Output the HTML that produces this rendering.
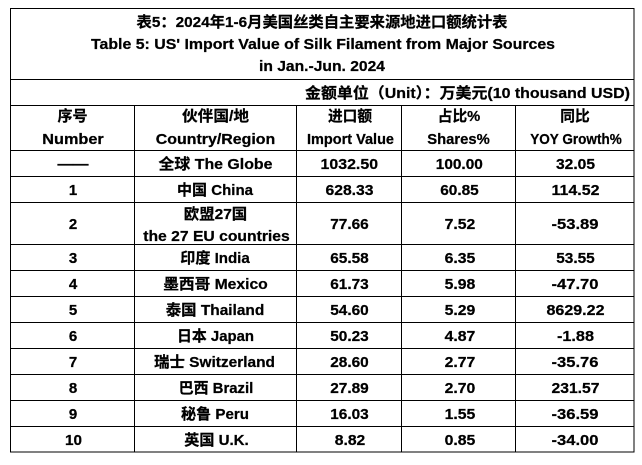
<!DOCTYPE html>
<html>
<head>
<meta charset="utf-8">
<style>
  html, body { margin:0; padding:0; background:#fff; }
  svg { display:block; }
  text { font-family: "Liberation Sans", "Noto Sans CJK SC", sans-serif; font-weight: bold; font-size: 15px; fill: #000; stroke:#000; stroke-width:0.25px; }
</style>
</head>
<body>
<svg width="642" height="465" viewBox="0 0 642 465" xmlns="http://www.w3.org/2000/svg">
  <rect x="0" y="0" width="642" height="465" fill="#fff"/>
  <g stroke="#000" stroke-width="1.2" fill="none" shape-rendering="crispEdges">
    <rect x="10.5" y="8.5" width="623.5" height="443.5"/>
    <line x1="10" y1="79.5" x2="634" y2="79.5"/>
    <line x1="10" y1="105.5" x2="634" y2="105.5"/>
    <line x1="10" y1="150.5" x2="634" y2="150.5"/>
    <line x1="10" y1="176.5" x2="634" y2="176.5"/>
    <line x1="10" y1="202.5" x2="634" y2="202.5"/>
    <line x1="10" y1="244.5" x2="634" y2="244.5"/>
    <line x1="10" y1="270.5" x2="634" y2="270.5"/>
    <line x1="10" y1="296.5" x2="634" y2="296.5"/>
    <line x1="10" y1="322.5" x2="634" y2="322.5"/>
    <line x1="10" y1="348.5" x2="634" y2="348.5"/>
    <line x1="10" y1="374.5" x2="634" y2="374.5"/>
    <line x1="10" y1="400.5" x2="634" y2="400.5"/>
    <line x1="10" y1="426.5" x2="634" y2="426.5"/>
    <line x1="134.5" y1="105" x2="134.5" y2="452"/>
    <line x1="296.5" y1="105" x2="296.5" y2="452"/>
    <line x1="401.5" y1="105" x2="401.5" y2="452"/>
    <line x1="515.5" y1="105" x2="515.5" y2="452"/>
  </g>

  <g text-anchor="middle">
    <text x="322" y="27" textLength="371" lengthAdjust="spacingAndGlyphs">表5：2024年1-6月美国丝类自主要来源地进口额统计表</text>
    <text x="323" y="49" textLength="464" lengthAdjust="spacingAndGlyphs">Table 5: US' Import Value of Silk Filament from Major Sources</text>
    <text x="322" y="71" textLength="126" lengthAdjust="spacingAndGlyphs">in Jan.-Jun. 2024</text>
  </g>
  <text x="630" y="98" text-anchor="end" textLength="325" lengthAdjust="spacingAndGlyphs">金额单位（Unit）：万美元(10 thousand USD)</text>

  <g text-anchor="middle">
    <!-- header -->
    <text x="72.5" y="121" textLength="30" lengthAdjust="spacingAndGlyphs">序号</text>
    <text x="73" y="144" textLength="61.5" lengthAdjust="spacingAndGlyphs">Number</text>
    <text x="215.5" y="121" textLength="67" lengthAdjust="spacingAndGlyphs">伙伴国/地</text>
    <text x="215.5" y="144" textLength="119.5" lengthAdjust="spacingAndGlyphs">Country/Region</text>
    <text x="350" y="121" textLength="44" lengthAdjust="spacingAndGlyphs">进口额</text>
    <text x="350.5" y="144" textLength="87" lengthAdjust="spacingAndGlyphs">Import Value</text>
    <text x="459" y="121" textLength="42.5" lengthAdjust="spacingAndGlyphs">占比%</text>
    <text x="458.5" y="144" textLength="62.5" lengthAdjust="spacingAndGlyphs">Shares%</text>
    <text x="575" y="121" textLength="29.5" lengthAdjust="spacingAndGlyphs">同比</text>
    <text x="576" y="144" textLength="91.5" lengthAdjust="spacingAndGlyphs">YOY Growth%</text>

    <!-- Globe -->
    <text x="73" y="169" textLength="31" lengthAdjust="spacingAndGlyphs">——</text>
    <text x="215.5" y="169" textLength="114" lengthAdjust="spacingAndGlyphs">全球 The Globe</text>
    <text x="349.3" y="169" textLength="57.5" lengthAdjust="spacingAndGlyphs">1032.50</text>
    <text x="459.3" y="169" textLength="47" lengthAdjust="spacingAndGlyphs">100.00</text>
    <text x="575.5" y="169" textLength="39" lengthAdjust="spacingAndGlyphs">32.05</text>

    <!-- China -->
    <text x="73" y="195">1</text>
    <text x="215" y="195" textLength="76" lengthAdjust="spacingAndGlyphs">中国 China</text>
    <text x="349.5" y="195" textLength="48" lengthAdjust="spacingAndGlyphs">628.33</text>
    <text x="459.5" y="195" textLength="38.5" lengthAdjust="spacingAndGlyphs">60.85</text>
    <text x="575.5" y="195" textLength="48" lengthAdjust="spacingAndGlyphs">114.52</text>

    <!-- EU -->
    <text x="73" y="229">2</text>
    <text x="215.5" y="219" textLength="63.5" lengthAdjust="spacingAndGlyphs">欧盟27国</text>
    <text x="216.5" y="241" textLength="146.5" lengthAdjust="spacingAndGlyphs">the 27 EU countries</text>
    <text x="349.5" y="229" textLength="38.5" lengthAdjust="spacingAndGlyphs">77.66</text>
    <text x="460" y="229" textLength="30.7" lengthAdjust="spacingAndGlyphs">7.52</text>
    <text x="575" y="229" textLength="47" lengthAdjust="spacingAndGlyphs">-53.89</text>

    <!-- India -->
    <text x="73" y="263">3</text>
    <text x="215" y="263" textLength="69.5" lengthAdjust="spacingAndGlyphs">印度 India</text>
    <text x="349.5" y="263" textLength="38.5" lengthAdjust="spacingAndGlyphs">65.58</text>
    <text x="460" y="263" textLength="30.7" lengthAdjust="spacingAndGlyphs">6.35</text>
    <text x="575.5" y="263" textLength="38.5" lengthAdjust="spacingAndGlyphs">53.55</text>

    <!-- Mexico -->
    <text x="73" y="289">4</text>
    <text x="215.5" y="289" textLength="104.5" lengthAdjust="spacingAndGlyphs">墨西哥 Mexico</text>
    <text x="349.5" y="289" textLength="38.5" lengthAdjust="spacingAndGlyphs">61.73</text>
    <text x="460" y="289" textLength="30.7" lengthAdjust="spacingAndGlyphs">5.98</text>
    <text x="575" y="289" textLength="47" lengthAdjust="spacingAndGlyphs">-47.70</text>

    <!-- Thailand -->
    <text x="73" y="315">5</text>
    <text x="215" y="315" textLength="98.5" lengthAdjust="spacingAndGlyphs">泰国 Thailand</text>
    <text x="349.5" y="315" textLength="38.5" lengthAdjust="spacingAndGlyphs">54.60</text>
    <text x="460" y="315" textLength="30.7" lengthAdjust="spacingAndGlyphs">5.29</text>
    <text x="575.5" y="315" textLength="58" lengthAdjust="spacingAndGlyphs">8629.22</text>

    <!-- Japan -->
    <text x="73" y="341">6</text>
    <text x="215.5" y="341" textLength="77" lengthAdjust="spacingAndGlyphs">日本 Japan</text>
    <text x="349.5" y="341" textLength="38.5" lengthAdjust="spacingAndGlyphs">50.23</text>
    <text x="460" y="341" textLength="30.7" lengthAdjust="spacingAndGlyphs">4.87</text>
    <text x="575.5" y="341" textLength="37" lengthAdjust="spacingAndGlyphs">-1.88</text>

    <!-- Switzerland -->
    <text x="73" y="367">7</text>
    <text x="214.5" y="367" textLength="121" lengthAdjust="spacingAndGlyphs">瑞士 Switzerland</text>
    <text x="349.5" y="367" textLength="38.5" lengthAdjust="spacingAndGlyphs">28.60</text>
    <text x="460" y="367" textLength="30.7" lengthAdjust="spacingAndGlyphs">2.77</text>
    <text x="575" y="367" textLength="47" lengthAdjust="spacingAndGlyphs">-35.76</text>

    <!-- Brazil -->
    <text x="216" y="393" textLength="74.5" lengthAdjust="spacingAndGlyphs">巴西 Brazil</text>
    <text x="73" y="393">8</text>
    <text x="349.5" y="393" textLength="38.5" lengthAdjust="spacingAndGlyphs">27.89</text>
    <text x="460" y="393" textLength="30.7" lengthAdjust="spacingAndGlyphs">2.70</text>
    <text x="575.5" y="393" textLength="48" lengthAdjust="spacingAndGlyphs">231.57</text>

    <!-- Peru -->
    <text x="73" y="419">9</text>
    <text x="215" y="419" textLength="68" lengthAdjust="spacingAndGlyphs">秘鲁 Peru</text>
    <text x="349.5" y="419" textLength="38.5" lengthAdjust="spacingAndGlyphs">16.03</text>
    <text x="460" y="419" textLength="30.7" lengthAdjust="spacingAndGlyphs">1.55</text>
    <text x="575" y="419" textLength="47" lengthAdjust="spacingAndGlyphs">-36.59</text>

    <!-- UK -->
    <text x="73.5" y="445" textLength="17" lengthAdjust="spacingAndGlyphs">10</text>
    <text x="216.5" y="445" textLength="64.5" lengthAdjust="spacingAndGlyphs">英国 U.K.</text>
    <text x="350" y="445" textLength="30.5" lengthAdjust="spacingAndGlyphs">8.82</text>
    <text x="460" y="445" textLength="30.7" lengthAdjust="spacingAndGlyphs">0.85</text>
    <text x="575" y="445" textLength="47" lengthAdjust="spacingAndGlyphs">-34.00</text>
  </g>
</svg>
</body>
</html>
